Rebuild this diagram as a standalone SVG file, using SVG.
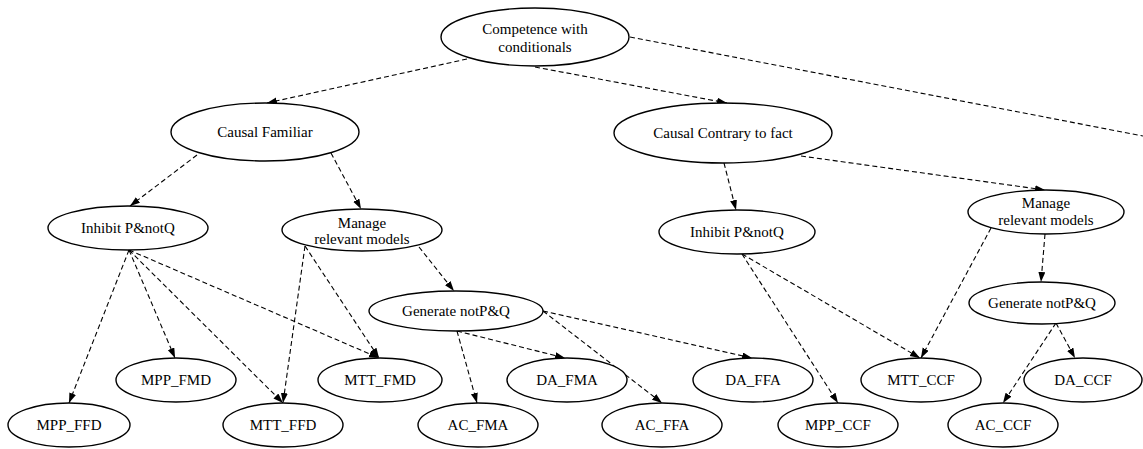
<svg xmlns="http://www.w3.org/2000/svg" width="1143" height="449" viewBox="0 0 1143 449">
<style>
.n ellipse{fill:#fff;stroke:#000;stroke-width:1.4}
text{font-family:"Liberation Serif","DejaVu Serif","Times New Roman",serif;font-size:15px;fill:#000;text-anchor:middle}
#edges line{stroke:#000;stroke-width:1.1;stroke-dasharray:5,3;fill:none;marker-end:url(#ah)}
</style>
<defs>
<marker id="ah" markerUnits="userSpaceOnUse" markerWidth="10" markerHeight="8" refX="10" refY="3.5" orient="auto">
<path d="M0,0 L10,3.5 L0,7 z" fill="#000"/>
</marker>
</defs>
<rect width="1143" height="449" fill="#fff"/>
<g id="edges">
<line x1="467" y1="59" x2="267" y2="103"/>
<line x1="535" y1="67" x2="727" y2="103"/>
<line x1="630" y1="37" x2="1143" y2="136" style="marker-end:none"/>
<line x1="197" y1="155" x2="130" y2="206"/>
<line x1="331" y1="153" x2="361" y2="209"/>
<line x1="724" y1="163" x2="736" y2="210"/>
<line x1="801" y1="156" x2="1045" y2="190"/>
<line x1="419" y1="247" x2="454" y2="291"/>
<line x1="1045" y1="234" x2="1041" y2="282"/>
<line x1="991" y1="228" x2="921" y2="358"/>
<line x1="742" y1="254" x2="920" y2="358"/>
<line x1="742" y1="254" x2="838" y2="403"/>
<line x1="1056" y1="323" x2="1003" y2="403"/>
<line x1="1056" y1="323" x2="1075" y2="358"/>
<line x1="129" y1="250" x2="69" y2="403"/>
<line x1="129" y1="250" x2="175" y2="358"/>
<line x1="129" y1="250" x2="283" y2="403"/>
<line x1="129" y1="250" x2="379" y2="358"/>
<line x1="305" y1="246" x2="283" y2="403"/>
<line x1="305" y1="246" x2="379" y2="358"/>
<line x1="457" y1="331" x2="477" y2="403"/>
<line x1="457" y1="331" x2="565" y2="358"/>
<line x1="543" y1="311" x2="662" y2="403"/>
<line x1="543" y1="311" x2="752" y2="358"/>
</g>
<g font-family="Liberation Serif, DejaVu Serif, serif">
<g id="competence" class="n"><ellipse cx="535" cy="37" rx="94" ry="29"/><text x="535" y="34">Competence with</text><text x="535" y="52">conditionals</text></g>
<g id="causal_familiar" class="n"><ellipse cx="265" cy="132" rx="94" ry="29"/><text x="265" y="137">Causal Familiar</text></g>
<g id="causal_contrary" class="n"><ellipse cx="723" cy="133" rx="109" ry="30"/><text x="723" y="138">Causal Contrary to fact</text></g>
<g id="inhibit_left" class="n"><ellipse cx="128" cy="228" rx="80" ry="22"/><text x="128" y="233">Inhibit P&amp;notQ</text></g>
<g id="manage_left" class="n"><ellipse cx="362" cy="230" rx="80" ry="21"/><text x="362" y="228">Manage</text><text x="362" y="244">relevant models</text></g>
<g id="inhibit_right" class="n"><ellipse cx="737" cy="232" rx="78" ry="22"/><text x="737" y="237">Inhibit P&amp;notQ</text></g>
<g id="manage_right" class="n"><ellipse cx="1046" cy="212" rx="78" ry="22"/><text x="1046" y="208">Manage</text><text x="1046" y="225">relevant models</text></g>
<g id="generate_left" class="n"><ellipse cx="456" cy="311" rx="87" ry="20"/><text x="456" y="316">Generate notP&amp;Q</text></g>
<g id="generate_right" class="n"><ellipse cx="1042" cy="303" rx="73" ry="21"/><text x="1042" y="308">Generate notP&amp;Q</text></g>
<g id="mpp_ffd" class="n"><ellipse cx="69" cy="425" rx="61" ry="22"/><text x="69" y="430">MPP_FFD</text></g>
<g id="mpp_fmd" class="n"><ellipse cx="176" cy="380" rx="60" ry="22"/><text x="176" y="385">MPP_FMD</text></g>
<g id="mtt_ffd" class="n"><ellipse cx="283" cy="425" rx="60" ry="22"/><text x="283" y="430">MTT_FFD</text></g>
<g id="mtt_fmd" class="n"><ellipse cx="380" cy="380" rx="62" ry="22"/><text x="380" y="385">MTT_FMD</text></g>
<g id="da_fma" class="n"><ellipse cx="567" cy="380" rx="60" ry="22"/><text x="567" y="385">DA_FMA</text></g>
<g id="ac_fma" class="n"><ellipse cx="478" cy="425" rx="60" ry="22"/><text x="478" y="430">AC_FMA</text></g>
<g id="ac_ffa" class="n"><ellipse cx="662" cy="425" rx="60" ry="22"/><text x="662" y="430">AC_FFA</text></g>
<g id="da_ffa" class="n"><ellipse cx="753" cy="380" rx="60" ry="22"/><text x="753" y="385">DA_FFA</text></g>
<g id="mpp_ccf" class="n"><ellipse cx="838" cy="425" rx="60" ry="22"/><text x="838" y="430">MPP_CCF</text></g>
<g id="mtt_ccf" class="n"><ellipse cx="921" cy="380" rx="60" ry="22"/><text x="921" y="385">MTT_CCF</text></g>
<g id="ac_ccf" class="n"><ellipse cx="1003" cy="425" rx="55" ry="22"/><text x="1003" y="430">AC_CCF</text></g>
<g id="da_ccf" class="n"><ellipse cx="1083" cy="380" rx="59" ry="22"/><text x="1083" y="385">DA_CCF</text></g>
</g>
</svg>
